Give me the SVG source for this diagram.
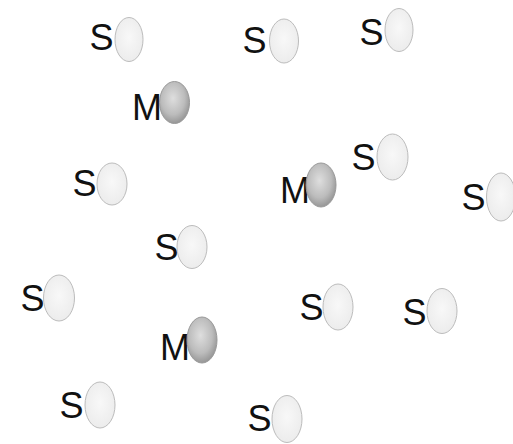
<svg xmlns="http://www.w3.org/2000/svg" width="513" height="444" viewBox="0 0 513 444">
<defs>
<radialGradient id="gs" cx="50%" cy="45%" r="60%"><stop offset="0" stop-color="#f8f8f8"/><stop offset="1" stop-color="#ebebeb"/></radialGradient>
<radialGradient id="gm" cx="45%" cy="40%" r="65%"><stop offset="0" stop-color="#dedede"/><stop offset="0.6" stop-color="#bcbcbc"/><stop offset="1" stop-color="#8e8e8e"/></radialGradient>
<style>
text{font-family:"Liberation Sans",Arial,sans-serif;font-size:36px;fill:#111}
.s{fill:url(#gs);stroke:#bcbcbc;stroke-width:1}
.m{fill:url(#gm);stroke:#999;stroke-width:1}
</style>
</defs>
<g id="connectors"/>
<g id="n1"><text x="89.5" y="50">S</text><ellipse class="s" cx="129" cy="39.5" rx="14" ry="22"/></g>
<g id="n2"><text x="242.5" y="52.5">S</text><ellipse class="s" cx="284" cy="41" rx="14.5" ry="22"/></g>
<g id="n3"><text x="359.5" y="44.5">S</text><ellipse class="s" cx="399" cy="30" rx="14" ry="21.5"/></g>
<g id="n4"><text x="132" y="120">M</text><ellipse class="m" cx="174.5" cy="102.5" rx="15" ry="21"/></g>
<g id="n5"><text x="72.5" y="196">S</text><ellipse class="s" cx="112" cy="184" rx="15" ry="21"/></g>
<g id="n6"><text x="280" y="203">M</text><ellipse class="m" cx="321" cy="185" rx="15" ry="22"/></g>
<g id="n7"><text x="351.5" y="169.5">S</text><ellipse class="s" cx="392.5" cy="157" rx="15.5" ry="23"/></g>
<g id="n8"><text x="461.5" y="209.5">S</text><ellipse class="s" cx="501" cy="197" rx="14.5" ry="24"/></g>
<g id="n9"><text x="154.5" y="259.5">S</text><ellipse class="s" cx="192" cy="247" rx="15" ry="21.5"/></g>
<g id="n10"><text x="20.5" y="311">S</text><ellipse class="s" cx="59" cy="298" rx="15.5" ry="23"/></g>
<g id="n11"><text x="299.5" y="319.5">S</text><ellipse class="s" cx="338" cy="307" rx="15" ry="23"/></g>
<g id="n12"><text x="402.5" y="324.5">S</text><ellipse class="s" cx="442" cy="311" rx="15" ry="22.5"/></g>
<g id="n13"><text x="160" y="360">M</text><ellipse class="m" cx="202" cy="340" rx="15" ry="23"/></g>
<g id="n14"><text x="59.5" y="417.5">S</text><ellipse class="s" cx="100" cy="405" rx="15" ry="23"/></g>
<g id="n15"><text x="247.5" y="431">S</text><ellipse class="s" cx="287" cy="419" rx="15" ry="23.5"/></g>
</svg>
